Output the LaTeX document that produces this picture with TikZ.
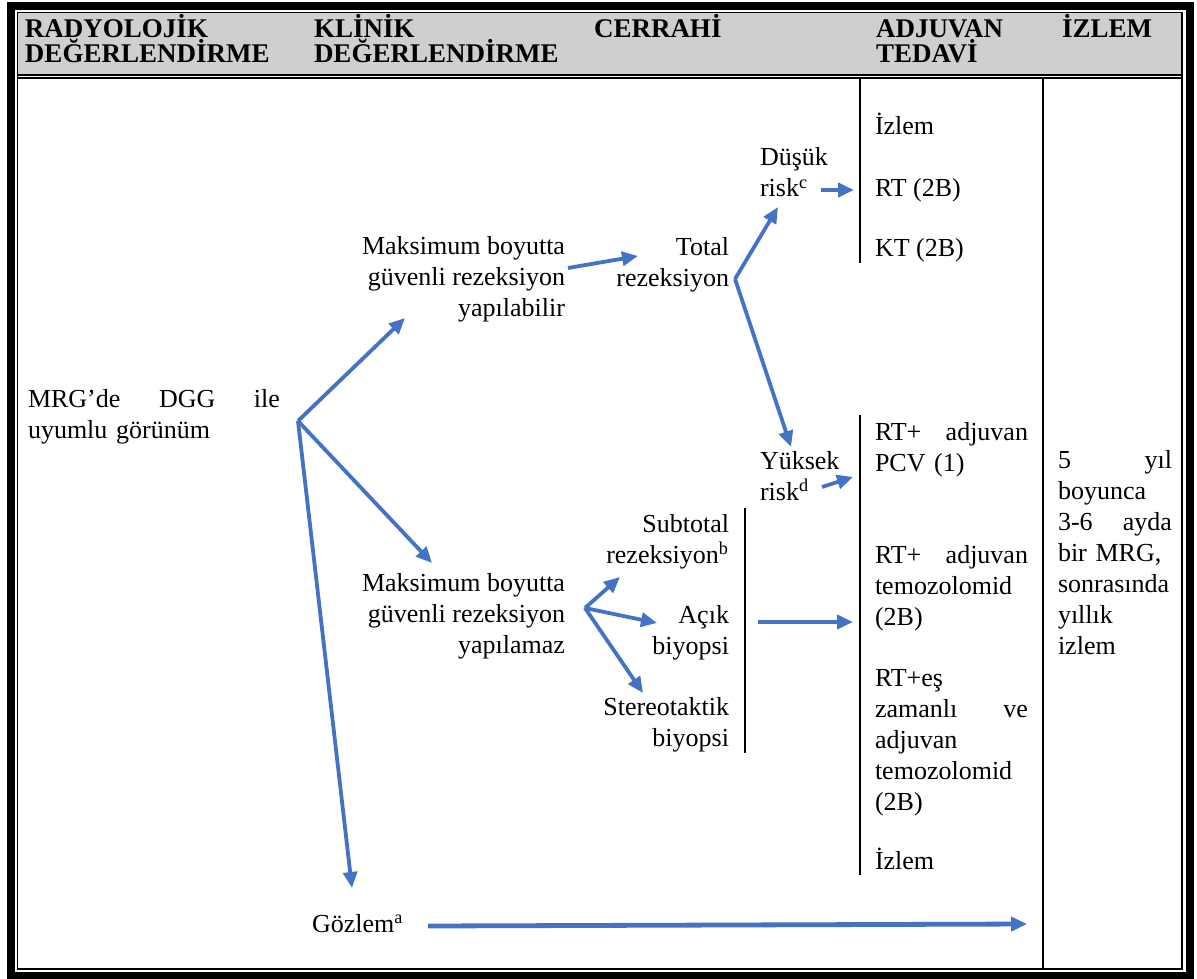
\documentclass[tikz,border=0pt]{standalone}
\usepackage{fontspec}
\setmainfont{Liberation Serif}
\usetikzlibrary{arrows.meta,positioning}
\definecolor{arrblue}{HTML}{4472C4}
\definecolor{hdrgray}{HTML}{D0CECE}
\newcommand\jfill{\hskip 0pt plus 1filll\relax}

\begin{document}
\begin{tikzpicture}[x=0.5pt,y=-0.5pt,
 every node/.style={inner sep=0pt,outer sep=0pt},
 hdr/.style={font=\fontsize{13.5}{12.5}\selectfont\bfseries,align=left,anchor=base west},
 txt/.style={font=\fontsize{13}{15.5}\selectfont},
 lft/.style={txt,align=left,anchor=base west},
 rgt/.style={txt,align=right,anchor=base east},
 arr/.style={arrblue,line width=1.9pt,-{Triangle[length=8pt,width=7pt]}},
 rule/.style={line width=0.75pt}]

\useasboundingbox (0,0) rectangle (1197,978);

% frame and header band
\fill[hdrgray] (18,13) rectangle (1181,74);
\draw[line width=4pt] (11,6) rectangle (1189.5,975.5);
\draw[line width=0.8pt] (17.5,12.5) rectangle (1182,969);
\draw[line width=1pt] (17.5,75) -- (1182,75);
\draw[line width=1pt] (17.5,78.5) -- (1182,78.5);
\draw[line width=1pt] (1043,78) -- (1043,969);

% column heads (anchored at the last line)
\node[hdr] (h1) at (25,63) {RADYOLOJİK\\DEĞERLENDİRME};
\node[hdr] (h2) at (314,63) {KLİNİK\\DEĞERLENDİRME};
\node[hdr] (h3) at (594,38) {CERRAHİ};
\node[hdr] (h4) at (876,63) {ADJUVAN\\TEDAVİ};
\node[hdr] (h5) at (1062,38) {İZLEM};

% radiology / clinic
\node[lft,text width=126pt] (mrg) at (28,407) {MRG’de\jfill DGG\jfill ile\\uyumlu görünüm};
\node[rgt] (mby) at (565,316) {Maksimum boyutta\\güvenli rezeksiyon\\yapılabilir};
\node[rgt] (mbz) at (565,653) {Maksimum boyutta\\güvenli rezeksiyon\\yapılamaz};
\node[lft] (goz) at (312,932) {Gözlem\textsuperscript{a}};

% surgery
\node[rgt] (tot) at (729,286) {Total\\rezeksiyon};
\node[lft] (dus) at (760,197) {Düşük\\risk\textsuperscript{c}};
\node[lft] (yuk) at (760,500) {Yüksek\\risk\textsuperscript{d}};
\node[rgt] (sub) at (729,563) {Subtotal\\rezeksiyon\textsuperscript{b}};
\node[rgt] (acik) at (729,654) {Açık\\biyopsi};
\node[rgt] (ste) at (729,746) {Stereotaktik\\biyopsi};

% adjuvant
\node[lft] (iz1) at (875,135) {İzlem};
\node[lft] (rt1) at (875,197) {RT (2B)};
\node[lft] (kt1) at (875,257) {KT (2B)};
\node[lft,text width=76.5pt] (pcv) at (875,440) {RT+\jfill adjuvan\\PCV (1)};
\node[lft,text width=76.5pt] (tmz) at (875,563) {RT+\jfill adjuvan\\temozolomid\\(2B)};
\node[lft,text width=76.5pt] (esz) at (875,686) {RT+eş\\zamanlı\jfill ve\\adjuvan\\temozolomid\\(2B)};
\node[lft] (iz2) at (875,869) {İzlem};

% follow-up
\node[lft,text width=57pt] (mrgc) at (1058,468) {5\jfill yıl\\boyunca\\3-6\jfill ayda\\bir MRG,\\sonrasında\\yıllık\\izlem};

% brackets
\draw[rule] (860,78) -- (860,263);
\draw[rule] (860,415) -- (860,875);
\draw[rule] (745,508) -- (745,753);

% arrows
\coordinate (v1) at (298,421);
\coordinate (v2) at (735,279);
\coordinate (v3) at (585,608);
\draw[arr] (v1) -- (405,318);
\draw[arr] (v1) -- (432,563);
\draw[arr] (v1) -- (352,888);
\draw[arr] (568,268) -- (638,256);
\draw[arr] (v2) -- (778,207);
\draw[arr] (v2) -- (791,447);
\draw[arr] (821,190) -- (854,190);
\draw[arr] (822,487) -- (853,477);
\draw[arr] (v3) -- (620,577);
\draw[arr] (v3) -- (657,623);
\draw[arr] (v3) -- (643,693);
\draw[arr] (758,622) -- (853,622);
\draw[arr,line width=2.4pt] (428,926) -- (1027,924);
\end{tikzpicture}
\end{document}
